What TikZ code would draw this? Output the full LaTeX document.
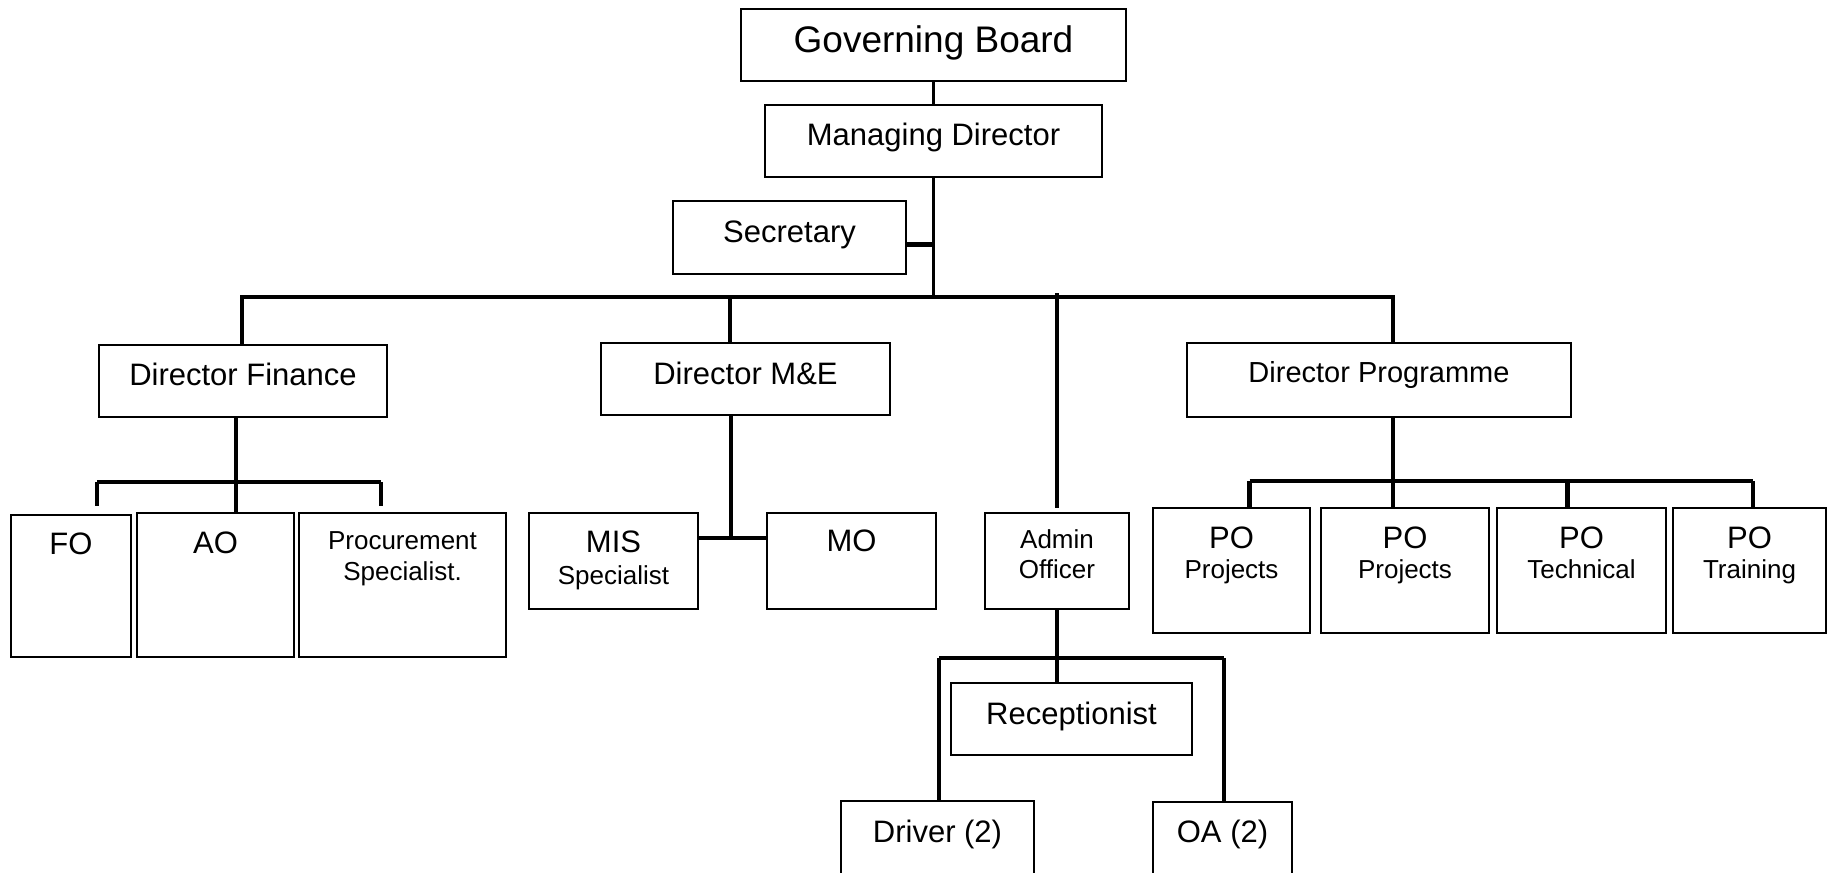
\documentclass[tikz,border=0pt]{standalone}
\usepackage{fontspec}
\setmainfont{Liberation Sans}
\usetikzlibrary{fit}
\begin{document}
\begin{tikzpicture}[x=0.5pt,y=-0.5pt,
  bx/.style={draw=black, line width=0.75pt, inner sep=0pt},
  conn/.style={draw=black, line width=2.2pt},
  thinconn/.style={draw=black, line width=1.3pt},
  tb/.style={anchor=base, inner sep=0pt},
  big/.style={tb, font=\fontsize{18.5}{22}\selectfont},
  mid/.style={tb, font=\fontsize{15.5}{18}\selectfont},
  dpf/.style={tb, font=\fontsize{14.5}{17}\selectfont},
  sml/.style={tb, font=\fontsize{13}{16}\selectfont}]
\useasboundingbox (0,0) rectangle (1834,872);

% boxes
\node[bx, fit={(741,9) (1126,81)}] (gb) {};
\node[bx, fit={(765,105) (1102,177)}] (md) {};
\node[bx, fit={(673,201) (906,274)}] (sec) {};
\node[bx, fit={(99,345) (387,417)}] (df) {};
\node[bx, fit={(601,343) (890,415)}] (dme) {};
\node[bx, fit={(1187,343) (1571,417)}] (dp) {};
\node[bx, fit={(11,515) (131,657)}] (fo) {};
\node[bx, fit={(137,513) (294,657)}] (ao) {};
\node[bx, fit={(299,513) (506,657)}] (proc) {};
\node[bx, fit={(529,513) (698,609)}] (mis) {};
\node[bx, fit={(767,513) (936,609)}] (mo) {};
\node[bx, fit={(985,513) (1129,609)}] (adm) {};
\node[bx, fit={(1153,508) (1310,633)}] (poa) {};
\node[bx, fit={(1321,508) (1489,633)}] (pob) {};
\node[bx, fit={(1497,508) (1666,633)}] (poc) {};
\node[bx, fit={(1673,508) (1826,633)}] (pod) {};
\node[bx, fit={(951,683) (1192,755)}] (rec) {};
\node[bx, fit={(841,801) (1034,900)}] (drv) {};
\node[bx, fit={(1153,802) (1292,900)}] (oa) {};

% texts
\node[big] (gbt) at (933.5,53) {Governing Board};
\node[mid] (mdt) at (933.5,145) {Managing Director};
\node[mid] (sect) at (789.5,242) {Secretary};
\node[mid] (dft) at (243,385) {Director Finance};
\node[mid] (dmet) at (745.5,384) {Director M\&E};
\node[dpf] (dpt) at (1379,382) {Director Programme};
\node[mid] (fot) at (71,554) {FO};
\node[mid] (aot) at (215.5,553) {AO};
\node[sml] (proct1) at (402.5,549) {Procurement};
\node[sml] (proct2) at (402.5,580) {Specialist.};
\node[mid] (mist1) at (613.5,552) {MIS};
\node[sml] (mist2) at (613.5,584) {Specialist};
\node[mid] (mot) at (851.5,551) {MO};
\node[sml] (admt1) at (1057,548) {Admin};
\node[sml] (admt2) at (1057,578) {Officer};
\node[mid] (poat1) at (1231.5,548) {PO};
\node[sml] (poat2) at (1231.5,578) {Projects};
\node[mid] (pobt1) at (1405,548) {PO};
\node[sml] (pobt2) at (1405,578) {Projects};
\node[mid] (poct1) at (1581.5,548) {PO};
\node[sml] (poct2) at (1581.5,578) {Technical};
\node[mid] (podt1) at (1749.5,548) {PO};
\node[sml] (podt2) at (1749.5,578) {Training};
\node[mid] (rect) at (1071.5,724) {Receptionist};
\node[mid] (drvt) at (937.5,842) {Driver (2)};
\node[mid] (oat) at (1222.5,842) {OA (2)};

% junction coordinates
\coordinate (barL) at (242,297);
\coordinate (barR) at (1393,297);
\coordinate (mex) at (730,297);
\coordinate (fj) at (236,482);
\coordinate (fl) at (97,482);
\coordinate (fr) at (381,482);
\coordinate (mej) at (731,538);
\coordinate (pj) at (1393,481);
\coordinate (pl) at (1249.5,481);
\coordinate (pc) at (1567.5,481);
\coordinate (pr) at (1753,481);
\coordinate (aj) at (1057,658);
\coordinate (al) at (939,658);
\coordinate (ar) at (1224,658);

% connectors
\draw[thinconn] (gb.south) -- (md.north);
\draw[conn, line width=1.6pt] (md.south) -- (md.south |- barL);
\draw[conn] ([yshift=-3.5pt]sec.east) -- ([yshift=-3.5pt]sec.east -| md.south);
\draw[conn] (df.north -| barL) -- (barL) -- (barR) -- (barR |- dp.north);
\draw[conn] (mex) -- (mex |- dme.north);
\draw[conn] ([yshift=2pt]adm.north |- barL) -- ([yshift=2pt]adm.north);

\draw[conn] (df.south -| fj) -- (ao.north -| fj);
\draw[conn] (fl) -- (fr);
\draw[conn, shorten >=4pt] (fl) -- (fl |- fo.north);
\draw[conn, shorten >=3pt] (fr) -- (fr |- proc.north);

\draw[conn] (dme.south -| mej) -- (mej);
\draw[conn] (mis.east |- mej) -- (mo.west |- mej);

\draw[conn] (dp.south -| pj) -- (pj);
\draw[conn] (pl) -- (pr);
\draw[conn] (pl) -- (pl |- poa.north);
\draw[conn] (pj) -- (pj |- pob.north);
\draw[conn] (pc) -- (pc |- poc.north);
\draw[conn] (pr) -- (pr |- pod.north);

\draw[conn] (adm.south) -- (adm.south |- rec.north);
\draw[conn] (al) -- (ar);
\draw[conn] (al) -- (al |- drv.north);
\draw[conn] (ar) -- (ar |- oa.north);
\end{tikzpicture}
\end{document}
